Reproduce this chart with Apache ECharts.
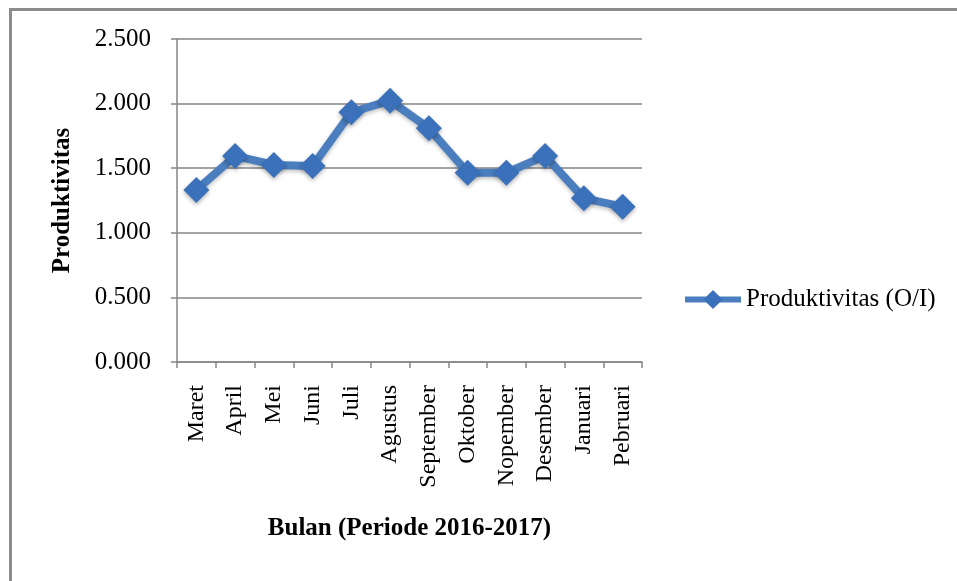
<!DOCTYPE html>
<html>
<head>
<meta charset="utf-8">
<script src="https://cdn.jsdelivr.net/npm/echarts@6/dist/echarts.min.js"></script>
<style>
html,body{margin:0;padding:0;background:#fff;}
#chart{width:957px;height:581px;}
</style>
</head>
<body>
<div id="chart"></div>
<script>
const categories = ['Maret','April','Mei','Juni','Juli','Agustus','September','Oktober','Nopember','Desember','Januari','Pebruari'];
const produktivitas = [1.331, 1.595, 1.525, 1.517, 1.933, 2.023, 1.809, 1.465, 1.465, 1.595, 1.267, 1.202];
const seriesName = 'Produktivitas (O/I)';
const yTitle = 'Produktivitas';
const xTitle = 'Bulan (Periode 2016-2017)';

const FONT = '"Liberation Serif", "Times New Roman", serif';
const chart = echarts.init(document.getElementById('chart'));
chart.setOption({
  backgroundColor: '#fff',
  animation: false,
  graphic: [
    {type:'rect', shape:{x:9, y:8, width:948, height:3}, style:{fill:'#8c8c8c'}},
    {type:'rect', shape:{x:9, y:8, width:3, height:573}, style:{fill:'#8c8c8c'}}
  ],
  grid: {left:177, right:315, top:39, bottom:219, containLabel:false},
  legend: {
    data:[seriesName],
    left: 682, top: 287, padding: 0,
    itemWidth: 56, itemHeight: 24,
    lineStyle:{width:6},
    textStyle:{fontFamily:FONT, fontSize:25, color:'#000'},
    itemGap: 4
  },
  xAxis: {
    type:'category', data:categories, boundaryGap:true,
    name: xTitle, nameLocation:'middle', nameGap:154,
    nameTextStyle:{fontFamily:FONT, fontSize:25, fontWeight:'bold', color:'#000'},
    axisLine:{lineStyle:{color:'#868686', width:1.5}},
    axisTick:{show:true, length:6, alignWithLabel:false, lineStyle:{color:'#868686', width:1.5}},
    axisLabel:{rotate:90, margin:23, fontFamily:FONT, fontSize:24, color:'#000', interval:0}
  },
  yAxis: {
    type:'value', min:0, max:2.5, interval:0.5,
    name: yTitle, nameLocation:'middle', nameGap:102, nameRotate:90,
    nameTextStyle:{fontFamily:FONT, fontSize:25, fontWeight:'bold', color:'#000'},
    axisLine:{show:true, lineStyle:{color:'#868686', width:1.5}},
    axisTick:{show:true, length:6, lineStyle:{color:'#868686', width:1.5}},
    splitLine:{show:true, lineStyle:{color:'#868686', width:1.5}},
    axisLabel:{margin:26, fontFamily:FONT, fontSize:25, color:'#000', formatter:v=>v.toFixed(3)}
  },
  series: [{
    name: seriesName, type:'line', data: produktivitas,
    symbol:'diamond', symbolSize:26,
    lineStyle:{color:'#4A7EBF', width:8, shadowColor:'rgba(0,0,0,0.25)', shadowBlur:4, shadowOffsetY:2},
    itemStyle:{color:'#3A71BA', borderWidth:0, shadowColor:'rgba(0,0,0,0.3)', shadowBlur:4, shadowOffsetY:2},
    emphasis:{disabled:true}
  }]
});
</script>
</body>
</html>
